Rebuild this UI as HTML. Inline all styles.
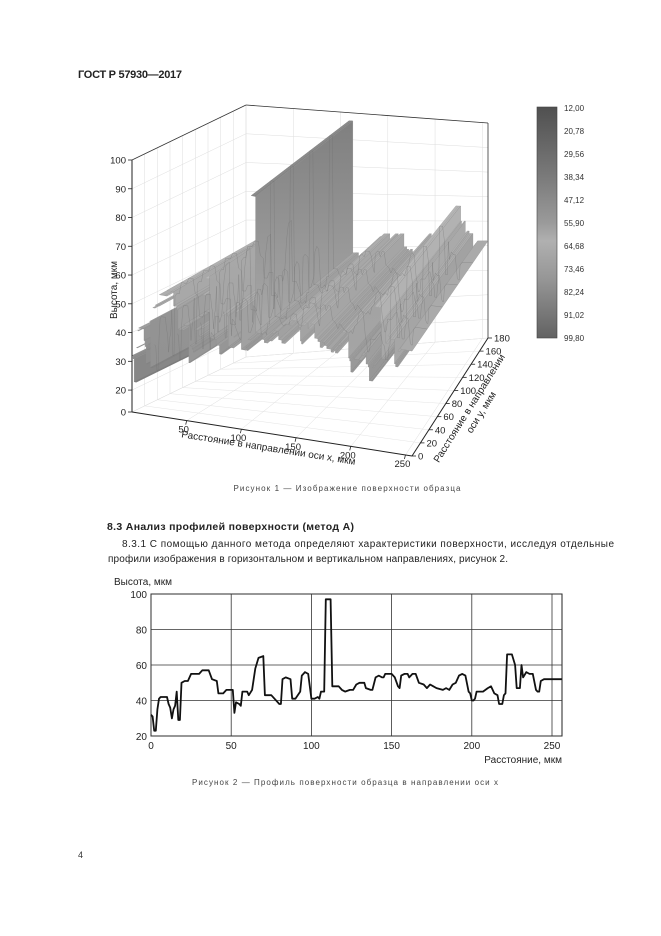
<!DOCTYPE html>
<html><head><meta charset="utf-8"><style>
html,body{margin:0;padding:0;background:#fff;}
svg{display:block;font-family:"Liberation Sans",Arial,sans-serif;}
</style></head><body>
<svg id="page" width="661" height="936" viewBox="0 0 661 936" xmlns="http://www.w3.org/2000/svg">
<defs id="defs">
<linearGradient id="cbar" x1="0" y1="0" x2="0" y2="1">
<stop offset="0" stop-color="#505050"/><stop offset="0.3" stop-color="#7a7a7a"/><stop offset="0.5" stop-color="#9a9a9a"/><stop offset="0.58" stop-color="#b0b0b0"/><stop offset="0.75" stop-color="#959595"/><stop offset="1" stop-color="#626262"/>
</linearGradient>
</defs>
<text x="78" y="78" font-size="11" font-weight="bold" fill="#222" textLength="104">ГОСТ Р 57930—2017</text>

<g id="chart3d"></g>

<g>
<rect x="537" y="107" width="20" height="231" fill="url(#cbar)" stroke="#444" stroke-width="0.6"/>
<g id="cbticks" font-size="8" fill="#333"></g>
</g>

<text x="347" y="491" font-size="8" fill="#444" text-anchor="middle" textLength="227">Рисунок 1 — Изображение поверхности образца</text>
<text x="107" y="530" font-size="10.5" font-weight="bold" fill="#222" textLength="247">8.3  Анализ профилей поверхности (метод А)</text>
<text x="122" y="547" font-size="10" fill="#222" textLength="492">8.3.1  С помощью данного метода определяют характеристики поверхности, исследуя отдельные</text>
<text x="108" y="562" font-size="10" fill="#222" textLength="400">профили изображения в горизонтальном и вертикальном направлениях, рисунок 2.</text>

<g id="chart2d"></g>

<text x="345" y="785" font-size="8" fill="#444" text-anchor="middle" textLength="306">Рисунок 2 — Профиль поверхности образца в направлении оси x</text>
<text x="78" y="858" font-size="9" fill="#333">4</text>
</svg>
<script>
// ---------- data ----------
const profileX=[0,1,2,3,4,5,6,10,11,12,13,14,15,16,17,18,19,21,23,25,30,32,36,38,41,42,45,47,51,52,53,55,56,57,60,61,63,65,67,70,71,75,77,80,81,82,84,87,88,90,93,94,96,98,100,102,104,105,106,108,109,112,113,117,119,121,124,126,128,130,133,134,137,138,140,142,144,145,146,150,152,154,155,156,158,160,161,163,165,167,170,172,174,176,178,182,184,186,188,190,192,194,196,198,199,200,201,202,203,207,210,212,214,216,217,219,220,221,222,225,227,228,230,231,232,234,236,238,240,241,242,243,245,256];
const profileY=[32,31,23,23,35,41,42,42,38,36,30,35,37,45,29,29,50,51,51,55,55,57,57,52,51,44,44,46,46,33,39,38,37,45,45,43,46,58,64,65,43,43,41,38,38,52,53,52,41,41,45,54,56,55,41,41,42,41,45,45,97,97,48,48,46,45,46,46,49,50,50,47,46,46,53,54,53,53,55,55,53,48,47,54,55,55,53,55,55,50,49,47,49,48,47,46,47,46,49,50,54,55,54,45,44,40,40,41,45,45,47,48,44,43,38,38,43,44,66,66,60,47,47,60,53,56,55,55,46,45,45,51,52,52];
const xTicks2d=[0,50,100,150,200,250];
const yTicks2d=[20,40,60,80,100];
const zTicks3d=[0,20,30,40,50,60,70,80,90,100];
const xTicks3d=[50,100,150,200,250];
const yTicks3d=[0,20,40,60,80,100,120,140,160,180];
const cbarLabels=["12,00","20,78","29,56","38,34","47,12","55,90","64,68","73,46","82,24","91,02","99,80"];

const NS="http://www.w3.org/2000/svg";
function mk(tag,attrs,parent){const e=document.createElementNS(NS,tag);for(const k in attrs)e.setAttribute(k,attrs[k]);parent.appendChild(e);return e;}

// ---------- 2D chart ----------
(function(){
const g=document.getElementById('chart2d');
const L=151,R=562,T=594,B=736;
const sx=x=>L+(x/250)*(552-L);
const sy=y=>B-(y-20)/80*(B-T);
mk('rect',{x:L,y:T,width:R-L,height:B-T,fill:'none',stroke:'#222','stroke-width':1},g);
xTicks2d.forEach(t=>{
  const l=mk('line',{x1:sx(t),x2:sx(t),y1:T,y2:B,stroke:'#333','stroke-width':0.8},g);
  
  
  const tx=mk('text',{x:sx(t),y:B+13,'font-size':10,fill:'#222','text-anchor':'middle'},g);tx.textContent=t;
  
  
});
yTicks2d.forEach(t=>{
  const l=mk('line',{x1:L,x2:R,y1:sy(t),y2:sy(t),stroke:'#333','stroke-width':0.8},g);
  
  
  const tx=mk('text',{x:L-4,y:sy(t)+4,'font-size':10,fill:'#222','text-anchor':'end'},g);tx.textContent=t;
  
  
});
let d='';profileX.forEach((x,i)=>{d+=(i?'L':'M')+sx(x).toFixed(1)+','+sy(profileY[i]).toFixed(1);});
const p=mk('path',{d:d,fill:'none',stroke:'#111','stroke-width':1.8,'stroke-linejoin':'round'},g);


const yt=mk('text',{x:114,y:585,'font-size':10,fill:'#222'},g);yt.textContent='Высота, мкм';


const xt=mk('text',{x:562,y:763,'font-size':10,fill:'#222','text-anchor':'end'},g);xt.textContent='Расстояние, мкм';


})();

// ---------- color bar labels ----------
(function(){
const g=document.getElementById('cbticks');
cbarLabels.forEach((s,i)=>{
  const y=108+i*(230/10);
  const t=mk('text',{x:564,y:y+3,'font-size':8,fill:'#333'},g);t.textContent=s;
  
  
});
})();

// ---------- 3D chart ----------
(function(){
const g=document.getElementById('chart3d');
const defs=document.getElementById('defs');
const FL=[132,412],FR=[412,456],BR=[488,338],BL=[246,357];
const HFL=252,HFR=232,HBR=215,HBL=252;
function P(x,y,z){
  const u=x/256,v=y/180;
  const bx=(1-u)*(1-v)*FL[0]+u*(1-v)*FR[0]+u*v*BR[0]+(1-u)*v*BL[0];
  const by=(1-u)*(1-v)*FL[1]+u*(1-v)*FR[1]+u*v*BR[1]+(1-u)*v*BL[1];
  const H=(1-u)*(1-v)*HFL+u*(1-v)*HFR+u*v*HBR+(1-u)*v*HBL;
  const f=z<20?z/20*0.087:0.087+(z-20)/80*0.913;
  return [bx,by-f*H];
}
const pt=a=>a[0].toFixed(1)+','+a[1].toFixed(1);
function col(z,dk){
  let t=z<=64?(z-12)/52:1-(z-64)/36*0.8;
  t=Math.max(0,Math.min(1,t));
  let c=Math.round(122+t*62)-dk;
  return 'rgb('+c+','+c+','+c+')';
}
const ln=(a,b,c,w)=>mk('line',{x1:a[0],y1:a[1],x2:b[0],y2:b[1],stroke:c,'stroke-width':w},g);
// wall grid
zTicks3d.forEach(z=>{ln(P(0,0,z),P(0,180,z),'#ddd',0.5);ln(P(0,180,z),P(256,180,z),'#ddd',0.5);});
xTicks3d.concat([0]).forEach(x=>{ln(P(x,180,0),P(x,180,100),'#ddd',0.5);ln(P(x,0,0),P(x,180,0),'#ddd',0.5);});
yTicks3d.forEach(y=>{ln(P(0,y,0),P(0,y,100),'#ddd',0.5);ln(P(0,y,0),P(256,y,0),'#e4e4e4',0.5);});
ln(P(0,0,100),P(0,180,100),'#333',0.8);ln(P(0,180,100),P(256,180,100),'#333',0.8);ln(P(256,180,100),P(256,180,0),'#333',0.8);
// extruded surface strips, painted from x=0 (far) to x=max (near); +x faces visible
let gid=0;
for(let i=0;i<profileX.length-1;i++){
  const x0=profileX[i],x1=profileX[i+1],z=profileY[i];
  const top=mk('polygon',{points:[P(x0,0,z),P(x1,0,z),P(x1,180,z),P(x0,180,z)].map(pt).join(' '),fill:col(z,0),stroke:col(z,18),'stroke-width':0.4},g);
  
  
  const zn=profileY[i+1];
  if(zn<z){
    let fill=col((z+zn)/2,5);
    if(z-zn>8){
      const id='fg'+(gid++);
      const lg=mk('linearGradient',{id:id,x1:0,y1:0,x2:0,y2:1},defs);
      mk('stop',{offset:0,'stop-color':col(z,12)},lg);
      mk('stop',{offset:1,'stop-color':col(zn,-4)},lg);
      fill='url(#'+id+')';
    }
    const face=mk('polygon',{points:[P(x1,0,zn),P(x1,180,zn),P(x1,180,z),P(x1,0,z)].map(pt).join(' '),fill:fill,stroke:'#909090','stroke-width':0.4},g);
    
    
  }
}
// ridge lines along y
[0.2,0.4,0.6,0.8].forEach(v=>{
  let d='';profileX.forEach((x,i)=>{const a=P(x,v*180,profileY[i]);d+=(i?'L':'M')+pt(a);});
  mk('path',{d:d,fill:'none',stroke:'#707070','stroke-width':0.5,opacity:0.5},g);
});
// front axes
ln(P(0,0,0),P(0,0,100),'#222',1);
ln(P(0,0,0),P(256,0,0),'#222',1);
ln(P(256,0,0),P(256,180,0),'#222',1);
zTicks3d.forEach(z=>{const a=P(0,0,z);ln([a[0]-4,a[1]],a,'#222',0.8);
  const t=mk('text',{x:a[0]-6,y:a[1]+3.5,'font-size':9.5,fill:'#222','text-anchor':'end'},g);t.textContent=z;
  
  });
xTicks3d.forEach(x=>{const a=P(x,0,0);ln(a,[a[0]-1,a[1]+4],'#222',0.8);
  const t=mk('text',{x:a[0]-3,y:a[1]+12,'font-size':9.5,fill:'#222','text-anchor':'middle'},g);t.textContent=x;
  
  });
yTicks3d.forEach(y=>{const a=P(256,y,0);ln(a,[a[0]+4,a[1]],'#222',0.8);
  const t=mk('text',{x:a[0]+6,y:a[1]+3.5,'font-size':9.5,fill:'#222'},g);t.textContent=y;
  
  });
const zt=mk('text',{x:0,y:0,'font-size':10,fill:'#222','text-anchor':'middle',transform:'translate(117,290) rotate(-90)'},g);zt.textContent='Высота, мкм';


const xt=mk('text',{x:0,y:0,'font-size':10,fill:'#222','text-anchor':'middle',transform:'translate(268,451) rotate(9)'},g);xt.textContent='Расстояние в направлении оси x, мкм';


const yt=mk('text',{x:0,y:0,'font-size':10,fill:'#222','text-anchor':'middle',transform:'translate(472,410) rotate(-58)'},g);yt.textContent='Расстояние в направлении';


const yt2=mk('text',{x:0,y:0,'font-size':10,fill:'#222','text-anchor':'middle',transform:'translate(484,414) rotate(-58)'},g);yt2.textContent='оси y, мкм';


})();
</script>
</body></html>
